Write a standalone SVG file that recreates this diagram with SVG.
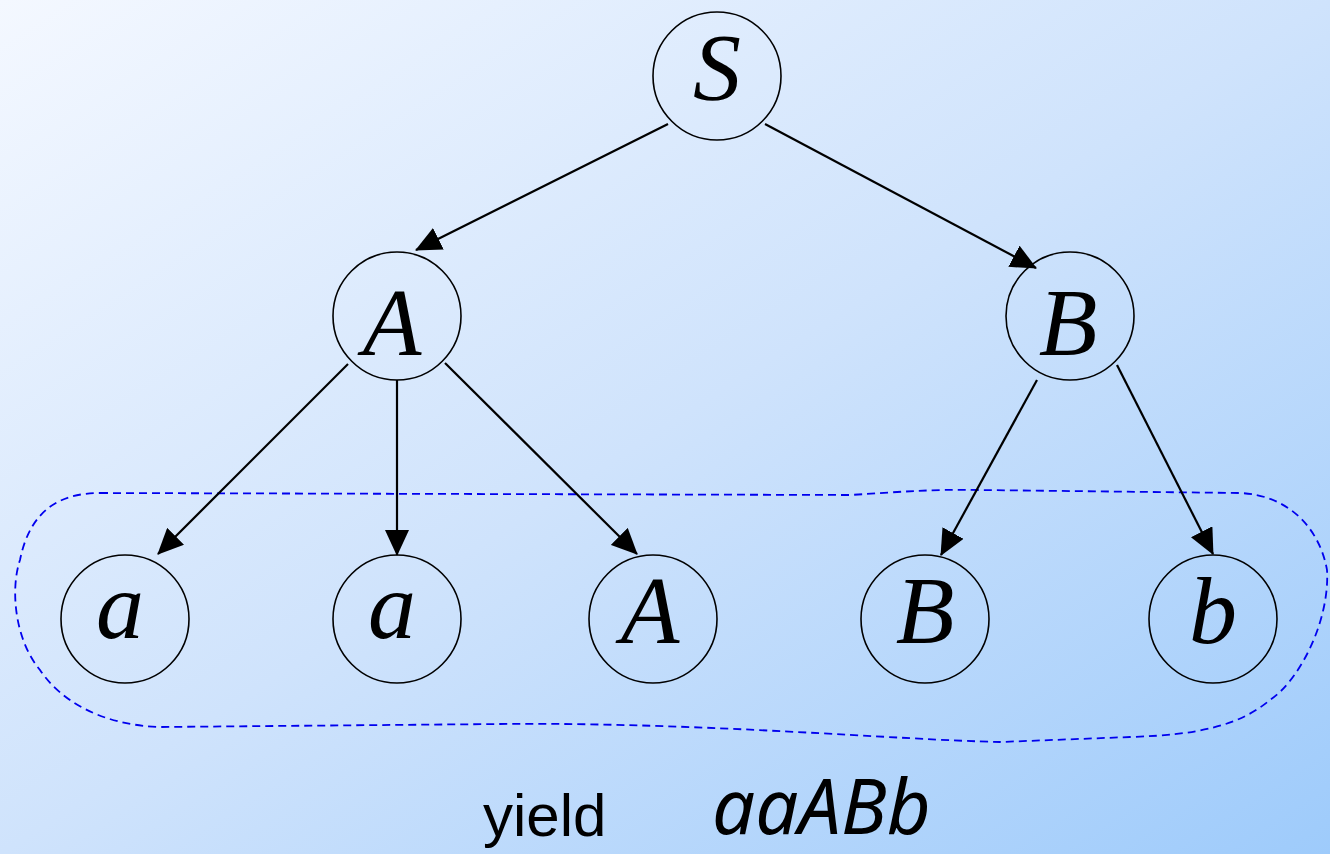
<svg xmlns="http://www.w3.org/2000/svg" width="1330" height="854" viewBox="0 0 1330 854">
<defs>
<linearGradient id="bg" x1="0" y1="0" x2="1" y2="1">
<stop offset="0" stop-color="#f4f8ff"/>
<stop offset="0.5" stop-color="#cfe3fc"/>
<stop offset="1" stop-color="#9ecbfb"/>
</linearGradient>
<marker id="arr" markerWidth="26" markerHeight="24" refX="25" refY="12" orient="auto" markerUnits="userSpaceOnUse">
<path d="M0,0 L26,12 L0,24 Z" fill="#000"/>
</marker>
<style>
.node circle{fill:none;stroke:#000;stroke-width:1.6}
.edge{stroke:#000;stroke-width:2.2;fill:none;marker-end:url(#arr)}
</style>
</defs>
<rect x="0" y="0" width="1330" height="854" fill="url(#bg)"/>
<path d="M100,493 L850,495 C900,492 930,489 980,490 L1240,493 C1290,495 1320,530 1327,570 C1330,620 1300,680 1270,700 C1240,725 1200,735 1130,737 L1000,742 C900,740 700,722 500,724 L160,727 C100,725 60,700 40,670 C15,640 10,590 20,560 C30,510 60,493 100,493 Z" fill="none" stroke="#0000ee" stroke-width="1.8" stroke-dasharray="8,5"/>
<g id="connectors">
<line class="edge" x1="668" y1="124" x2="416" y2="250"/>
<line class="edge" x1="765" y1="124" x2="1036" y2="268"/>
<line class="edge" x1="348" y1="364" x2="158" y2="554"/>
<line class="edge" x1="397" y1="380" x2="397" y2="555"/>
<line class="edge" x1="445" y1="363" x2="637" y2="554"/>
<line class="edge" x1="1037" y1="380" x2="941" y2="555"/>
<line class="edge" x1="1117" y1="365" x2="1213" y2="554"/>
</g>
<g font-family="Liberation Serif, DejaVu Serif, Times New Roman, serif" font-style="italic" font-size="96" text-anchor="middle" fill="#000">
<g id="node-S" class="node"><circle cx="717" cy="76" r="64"/><text x="717" y="100">S</text></g>
<g id="node-A" class="node"><circle cx="397" cy="316" r="64"/><text x="392" y="355">A</text></g>
<g id="node-B" class="node"><circle cx="1070" cy="316" r="64"/><text x="1068" y="355">B</text></g>
<g id="node-a1" class="node"><circle cx="125" cy="619" r="64"/><text x="120" y="638">a</text></g>
<g id="node-a2" class="node"><circle cx="397" cy="619" r="64"/><text x="392" y="638">a</text></g>
<g id="node-A2" class="node"><circle cx="653" cy="619" r="64"/><text x="650" y="643">A</text></g>
<g id="node-B2" class="node"><circle cx="925" cy="619" r="64"/><text x="925" y="643">B</text></g>
<g id="node-b" class="node"><circle cx="1213" cy="619" r="64"/><text x="1213" y="643">b</text></g>
</g>
<text x="483" y="836" font-family="Liberation Sans, Arial, sans-serif" font-size="60" fill="#000">yield</text>
<text x="712" y="834" font-family="Comic Sans MS, Noto Sans, sans-serif" font-style="italic" font-size="76" fill="#000">aaABb</text>
</svg>
